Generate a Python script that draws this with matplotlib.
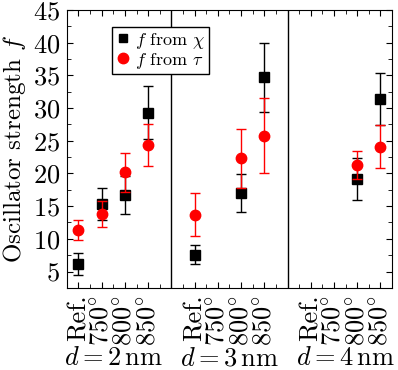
import numpy as np
import matplotlib
matplotlib.use("Agg")
import matplotlib.pyplot as plt
from matplotlib.lines import Line2D
from matplotlib.ticker import MultipleLocator, FixedLocator
from matplotlib.transforms import blended_transform_factory

plt.rcParams['font.family'] = 'serif'
plt.rcParams['font.serif'] = ['cmr10']
plt.rcParams['mathtext.fontset'] = 'cm'
plt.rcParams['axes.unicode_minus'] = False
plt.rcParams['axes.formatter.use_mathtext'] = True

# categories inside each group
temps = ['Ref.', r'$750^{\circ}$', r'$800^{\circ}$', r'$850^{\circ}$']
groups = [r'$d=2\,\mathrm{nm}$', r'$d=3\,\mathrm{nm}$', r'$d=4\,\mathrm{nm}$']

# f from chi (black squares), per group: Ref, 750, 800, 850
f_chi = [[6.1, 15.3, 16.7, 29.3],
         [7.6, np.nan, 17.0, 34.7],
         [np.nan, np.nan, 19.2, 31.4]]
f_chi_err = [[1.7, 2.4, 2.9, 4.0],
             [1.5, np.nan, 2.9, 5.3],
             [np.nan, np.nan, 3.2, 4.0]]

# f from tau (red circles)
f_tau = [[11.4, 13.8, 20.2, 24.3],
         [13.7, np.nan, 22.3, 25.8],
         [np.nan, np.nan, 21.3, 24.1]]
f_tau_err = [[1.55, 2.0, 3.0, 3.2],
             [3.3, np.nan, 4.5, 5.75],
             [np.nan, np.nan, 2.1, 3.25]]

fig = plt.figure(figsize=(3.98, 3.70), dpi=100)
ax = fig.add_axes([0.168, 0.222, 0.817, 0.751])

pos = []
for g in range(len(groups)):
    pos.append(np.arange(len(temps)) + g * (len(temps) + 1))

for g in range(len(groups)):
    ax.errorbar(pos[g], f_chi[g], yerr=f_chi_err[g], fmt='s', color='black',
                ms=6.5, capsize=3.5, elinewidth=1, capthick=1, zorder=3)
    ax.errorbar(pos[g], f_tau[g], yerr=f_tau_err[g], fmt='o', color='red',
                ms=7.5, capsize=3.5, elinewidth=1, capthick=1, zorder=4)

for g in range(1, len(groups)):
    ax.axvline(g * (len(temps) + 1) - 1, color='black', lw=1)

ax.set_xlim(-0.5, 13.5)
ax.set_ylim(2.5, 45)

ax.xaxis.set_major_locator(FixedLocator(np.concatenate(pos)))
ax.set_xticklabels(temps * len(groups), rotation=90, fontsize=19)
ax.xaxis.set_minor_locator(MultipleLocator(0.5))
ax.yaxis.set_major_locator(MultipleLocator(5))
ax.yaxis.set_minor_locator(MultipleLocator(2.5))
ax.tick_params(which='both', direction='in', top=True, right=True)
ax.tick_params(which='major', length=4.5, labelsize=19, pad=5)
ax.tick_params(which='minor', length=3)

ax.set_ylabel(r'Oscillator strength $f$', fontsize=18, labelpad=3)

tr = blended_transform_factory(ax.transData, ax.transAxes)
for g in range(len(groups)):
    ax.text(pos[g].mean(), -0.279, groups[g], transform=tr, ha='center', va='baseline', fontsize=19)

handles = [Line2D([], [], ls='none', marker='s', color='black', ms=6),
           Line2D([], [], ls='none', marker='o', color='red', ms=7.5)]
ax.legend(handles, [r'$f$ from $\chi$', r'$f$ from $\tau$'], loc='upper left',
          bbox_to_anchor=(0.138, 0.939), fontsize=13, frameon=True,
          fancybox=False, edgecolor='black', framealpha=1, handlelength=0.8,
          handletextpad=0.3, borderpad=0.2, labelspacing=0.0, borderaxespad=0)

fig.savefig('out.png', dpi=100)
